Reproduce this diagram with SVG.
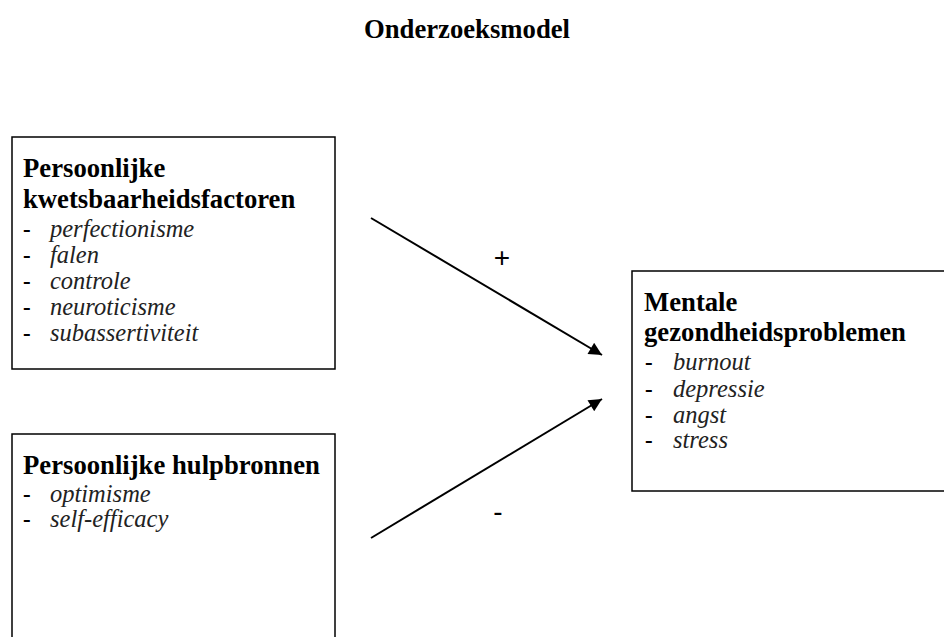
<svg xmlns="http://www.w3.org/2000/svg" width="944" height="637" viewBox="0 0 944 637">
<style>
.box{fill:#fff;stroke:#000;stroke-width:1.5}
.h{font-family:"Liberation Serif","Times New Roman",serif;font-weight:bold;font-size:26.7px;fill:#000}
.d{font-family:"Liberation Serif","Times New Roman",serif;font-weight:bold;font-size:23px;fill:#000}
.i{font-family:"Liberation Serif","Times New Roman",serif;font-style:italic;font-size:24.5px;fill:#222}
.s{font-family:"Liberation Sans",Arial,sans-serif;font-size:28px;fill:#000}
.c{stroke:#000;stroke-width:2;fill:none}
</style>
<defs>
<marker id="ah" viewBox="0 0 10 10" refX="10" refY="5" markerWidth="7" markerHeight="6.5" markerUnits="strokeWidth" orient="auto">
<path d="M0,0 L10,5 L0,10 Z" fill="#000"/>
</marker>
</defs>
<rect width="944" height="637" fill="#fff"/>
<text class="h" x="467" y="38" text-anchor="middle">Onderzoeksmodel</text>
<g id="kwetsbaarheid">
<rect class="box" x="12" y="137" width="323" height="232"/>
<text class="h" x="23" y="177">Persoonlijke</text>
<text class="h" x="23" y="208">kwetsbaarheidsfactoren</text>
<text class="d" x="23" y="237">-</text><text class="i" x="50" y="237">perfectionisme</text>
<text class="d" x="23" y="263">-</text><text class="i" x="50" y="263">falen</text>
<text class="d" x="23" y="289">-</text><text class="i" x="50" y="289">controle</text>
<text class="d" x="23" y="315">-</text><text class="i" x="50" y="315">neuroticisme</text>
<text class="d" x="23" y="341">-</text><text class="i" x="50" y="341">subassertiviteit</text>
</g>
<g id="hulpbronnen">
<rect class="box" x="12" y="434" width="323" height="220"/>
<text class="h" x="23" y="474">Persoonlijke hulpbronnen</text>
<text class="d" x="23" y="502">-</text><text class="i" x="50" y="502">optimisme</text>
<text class="d" x="23" y="527">-</text><text class="i" x="50" y="527">self-efficacy</text>
</g>
<g id="mentale">
<rect class="box" x="632" y="271" width="320" height="220"/>
<text class="h" x="644" y="311">Mentale</text>
<text class="h" x="644" y="341">gezondheidsproblemen</text>
<text class="d" x="645" y="370">-</text><text class="i" x="673" y="370">burnout</text>
<text class="d" x="645" y="397">-</text><text class="i" x="673" y="397">depressie</text>
<text class="d" x="645" y="423">-</text><text class="i" x="673" y="423">angst</text>
<text class="d" x="645" y="448">-</text><text class="i" x="673" y="448">stress</text>
</g>
<g id="connectors">
<line class="c" x1="371" y1="218" x2="602" y2="355" marker-end="url(#ah)"/>
<line class="c" x1="371" y1="538" x2="602" y2="399" marker-end="url(#ah)"/>
<text class="s" x="502" y="267" text-anchor="middle">+</text>
<text class="s" x="498" y="521" text-anchor="middle">-</text>
</g>
</svg>
